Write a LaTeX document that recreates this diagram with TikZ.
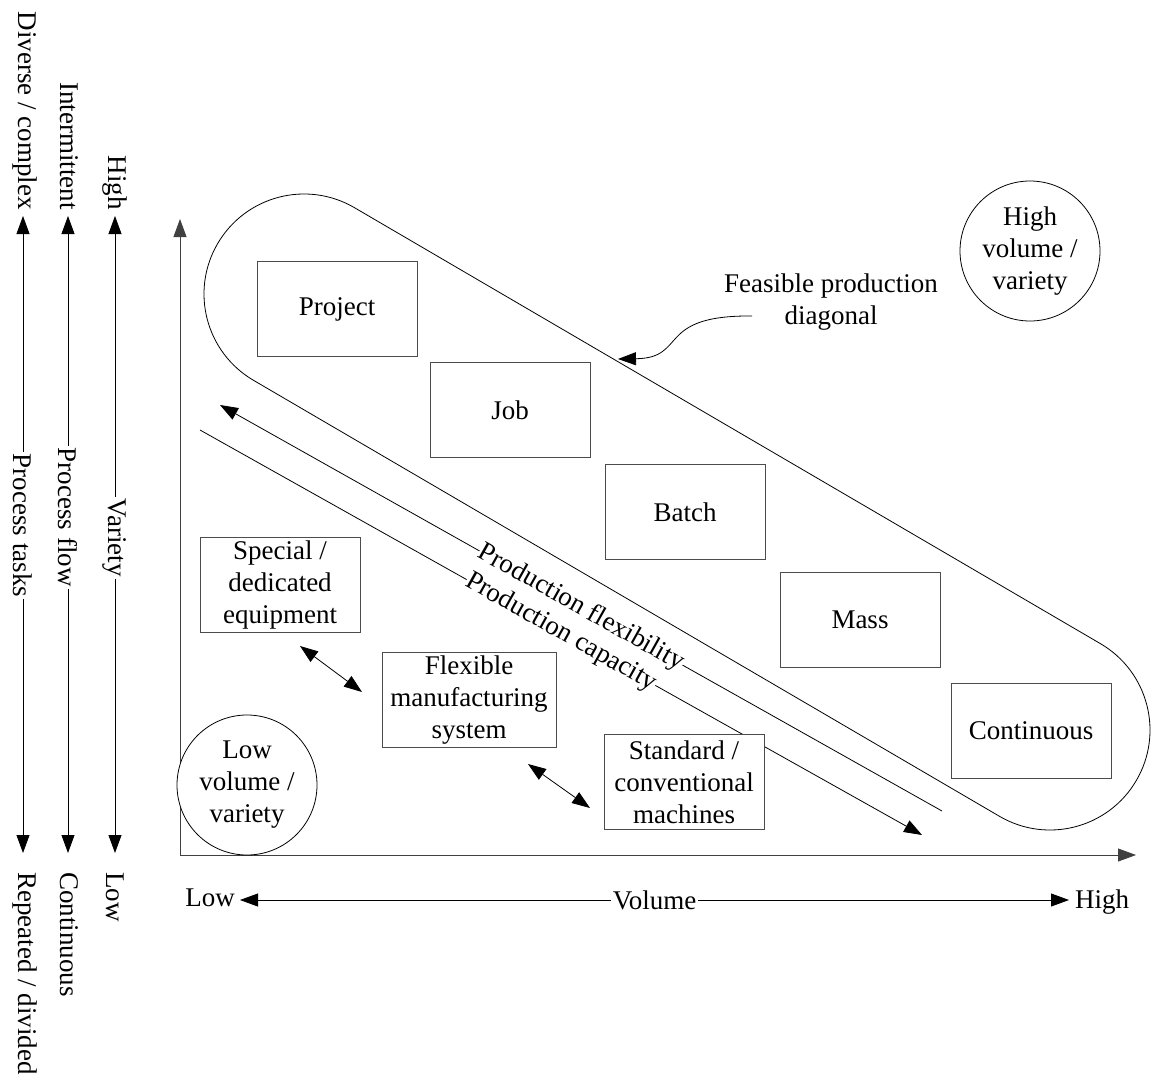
\documentclass[tikz,border=0pt]{standalone}
\usepackage{fontspec}
\setmainfont{Liberation Serif}
\usetikzlibrary{arrows.meta,calc}

\begin{document}
\begin{tikzpicture}[x=1pt,y=1pt,
  every node/.style={font=\fontsize{27}{32}\selectfont},
  tip/.style={-{Triangle[length=18pt,width=13pt]}},
  bothtips/.style={{Triangle[length=18pt,width=13pt]}-{Triangle[length=18pt,width=13pt]}},
  thin line/.style={line width=0.8pt},
  procbox/.style={draw=black!70, line width=0.9pt, fill=white, minimum width=160pt,
                  minimum height=95pt, inner sep=0pt, align=center},
  ring/.style={draw, circle, line width=0.8pt, fill=white, minimum size=140pt,
               inner sep=0pt, align=center},
  gaplabel/.style={fill=white, inner sep=2pt},
  sidelabel/.style={rotate=-90, inner sep=0pt}
]
\useasboundingbox (0,0) rectangle (1151,-1076);

% ---- side scales (rotated labels) ----
\coordinate (t1) at (23,-216);  \coordinate (b1) at (23,-853);
\coordinate (t2) at (68,-216);  \coordinate (b2) at (68,-853);
\coordinate (t3) at (115,-216); \coordinate (b3) at (115,-853);

\node[sidelabel, anchor=east] (tasktop) at (25,-210) {Diverse / complex};
\node[sidelabel, anchor=west] (taskbot) at (25,-872) {Repeated / divided};
\node[sidelabel, anchor=east] (flowtop) at (69,-210) {Intermittent};
\node[sidelabel, anchor=west] (flowbot) at (69,-872) {Continuous};
\node[sidelabel, anchor=east] (vartop) at (115,-210) {High};
\node[sidelabel, anchor=west] (varbot) at (115,-872) {Low};

\draw[thin line, bothtips] (t1) -- node[pos=0.486, gaplabel, rotate=-90] (tasks) {Process tasks} (b1);
\draw[thin line, bothtips] (t2) -- node[pos=0.473, gaplabel, rotate=-90] (flow) {Process flow} (b2);
\draw[thin line, bothtips] (t3) -- node[pos=0.505, gaplabel, rotate=-90] (variety) {Variety} (b3);

% ---- axes ----
\coordinate (origin) at (180,-855);
\coordinate (ytop) at (180,-219);
\coordinate (xend) at (1136,-855);
\draw[thin line, draw=black!75, tip] (origin) -- (ytop);
\draw[thin line, draw=black!75, tip] (origin) -- (xend);

% ---- volume scale ----
\node (vlow) at (210,-898) {Low};
\node (vhigh) at (1102,-902) {High};
\coordinate (vl) at (240,-900);
\coordinate (vh) at (1069,-900);
\draw[thin line, bothtips] (vl) -- node[gaplabel] (volume) {Volume} (vh);

% ---- feasible production diagonal (stadium outline) ----
\coordinate (c1) at (304,-294);
\coordinate (c2) at (1050,-730);
\draw[thin line] ($(c1)+(59.69:100)$) -- ($(c2)+(59.69:100)$)
  arc[start angle=59.69, end angle=-120.31, radius=100]
  -- ($(c1)+(239.69:100)$)
  arc[start angle=239.69, end angle=59.69, radius=100] -- cycle;

\node[align=center] (fpd) at (831,-302) {Feasible production\\diagonal};
\coordinate (fpdstart) at (752,-316);
\coordinate (fpdtip) at (618,-359);
\draw[thin line, tip] (fpdstart) .. controls (655,-315) and (688,-358) .. (fpdtip);

% ---- flexibility / capacity lines ----
\coordinate (flexend) at (942,-811);
\coordinate (flextip) at (220,-405);
\coordinate (capstart) at (200,-430);
\coordinate (captip) at (922,-835);
\draw[thin line, tip] (flexend) -- node[pos=0.5, sloped, gaplabel, inner sep=0.5pt] (flexlabel) {Production flexibility} (flextip);
\draw[thin line, tip] (capstart) -- node[pos=0.5, sloped, gaplabel, inner sep=0.5pt] (caplabel) {Production capacity} (captip);

% ---- process types ----
\node[procbox] (project) at (337,-309) {Project};
\node[procbox] (job) at (510,-410) {Job};
\node[procbox] (batch) at (685,-512) {Batch};
\node[procbox] (mass) at (860,-620) {Mass};
\node[procbox] (continuous) at (1031,-731) {Continuous};

% ---- equipment types ----
\node[procbox] (special) at (280,-585) {Special /\\dedicated\\equipment};
\node[procbox, minimum width=174pt] (fms) at (469,-700) {Flexible\\manufacturing\\system};
\node[procbox] (standard) at (684,-782) {Standard /\\conventional\\machines};

\coordinate (sf1) at (300,-646); \coordinate (sf2) at (362,-692);
\coordinate (fs1) at (528,-764); \coordinate (fs2) at (590,-808);
\draw[thin line, bothtips] (sf1) -- (sf2);
\draw[thin line, bothtips] (fs1) -- (fs2);

% ---- corner circles ----
\node[ring] (highvv) at (1030,-251) {High\\volume /\\variety};
\node[ring] (lowvv) at (247,-785) {Low\\volume /\\variety};

\end{tikzpicture}
\end{document}
